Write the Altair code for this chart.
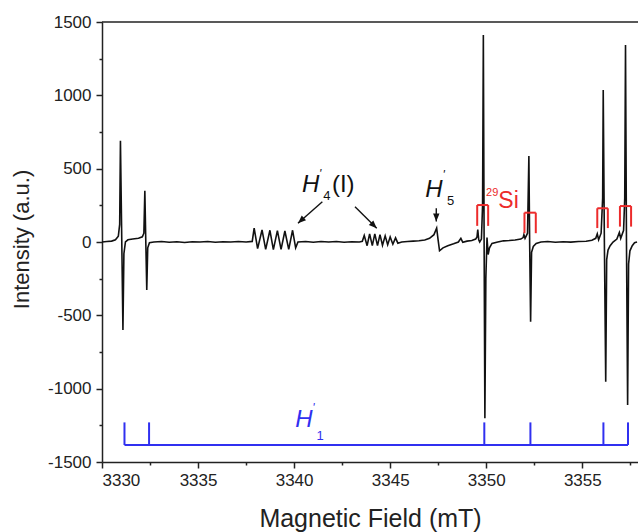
import altair as alt
import pandas as pd

FONT = "Liberation Sans"
XMIN, XMAX = 3330.0, 3357.9
YMIN, YMAX = -1500, 1500

# ---- EPR spectrum ----
field = [
    3330.00, 3330.25, 3330.50, 3330.70, 3330.85, 3330.92, 3330.96, 3331.03, 3331.09, 3331.14,
    3331.22, 3331.35, 3331.60, 3331.90, 3332.10, 3332.18, 3332.23, 3332.28, 3332.33, 3332.38,
    3332.47, 3332.70, 3333.10, 3333.50, 3333.90, 3334.30, 3334.70, 3335.10, 3335.50, 3335.90,
    3336.30, 3336.70, 3337.10, 3337.50, 3337.82,
    3337.92, 3338.10, 3338.33, 3338.52, 3338.74, 3338.92, 3339.13, 3339.32, 3339.52, 3339.72,
    3339.92, 3340.08, 3340.20,
    3340.60, 3341.00, 3341.40, 3341.80, 3342.20, 3342.60, 3343.00, 3343.40, 3343.55,
    3343.65, 3343.80, 3343.93, 3344.07, 3344.20, 3344.34, 3344.47, 3344.60, 3344.74, 3344.87,
    3345.00, 3345.14, 3345.28, 3345.40, 3345.60,
    3345.90, 3346.20, 3346.50, 3346.80, 3347.05, 3347.28, 3347.42, 3347.50, 3347.57, 3347.75,
    3348.00, 3348.30, 3348.55, 3348.68, 3348.78, 3349.00, 3349.25, 3349.45,
    3349.52, 3349.56, 3349.61, 3349.66, 3349.75, 3349.81, 3349.85, 3349.89, 3349.93, 3349.98,
    3350.04, 3350.10, 3350.17, 3350.30, 3350.60, 3350.90, 3351.20, 3351.50, 3351.80, 3351.92,
    3351.96, 3352.02, 3352.15, 3352.22, 3352.26, 3352.31, 3352.36, 3352.45, 3352.60, 3352.85,
    3353.20, 3353.60, 3354.00, 3354.40, 3354.80, 3355.20, 3355.50, 3355.70,
    3355.78, 3355.85, 3355.98, 3356.06, 3356.09, 3356.15, 3356.22, 3356.27, 3356.34, 3356.45,
    3356.60, 3356.80, 3356.93, 3357.00, 3357.15, 3357.21,
    3357.25, 3357.30, 3357.36, 3357.41, 3357.48, 3357.60, 3357.72, 3357.85,
]
intensity = [
    0, 3, 6, 15, 40, 120, 690, 0, -600, -80,
    0, 15, 20, 25, 35, 60, 350, 0, -327, -40,
    -5, 0, 3, -2, 2, -3, 2, 0, 3, -2,
    2, 0, 3, 0, 4,
    95, -45, 82, -50, 80, -52, 78, -50, 75, -50,
    80, -40, 0,
    3, -2, 3, 0, 3, -2, 2, 0, 5,
    45, -25, 55, -25, 55, -25, 50, -22, 42, -18,
    35, -15, 28, -8, 0,
    3, 6, 8, 14, 25, 50, 95, 10, -60, -40,
    -25, -12, 0, 25, -2, 6, 10, 20,
    35, 85, 15, 0, 20, 250, 1411, 0, -1202, -250,
    30, -85, -40, -10, 0, 8, 10, 14, 20, 30,
    50, 25, 60, 586, 0, -543, -70, -30, -10, 0,
    3, -2, 2, -1, 3, 5, 12, 25,
    55, 15, 60, 300, 1036, 0, -952, -120, -55, -25,
    0, 20, 65, 25, 80, 300,
    1343, 0, -1111, -150, -60, -25, -5, 0,
]

# 29Si satellite brackets
si_left = [3349.53, 3351.99, 3355.78, 3356.96]
si_right = [3350.10, 3352.58, 3356.33, 3357.54]
si_top = [252, 200, 230, 245]
si_bottom = [110, 60, 95, 105]

# H'1 stick diagram
h1_lines = [3331.17, 3332.45, 3349.90, 3352.30, 3356.10, 3357.38]
h1_base = -1384
h1_top = -1230

x_major = [3330, 3335, 3340, 3345, 3350, 3355]
x_minor = [3332.5, 3337.5, 3342.5, 3347.5, 3352.5, 3357.5]
y_major = [-1500, -1000, -500, 0, 500, 1000, 1500]
y_minor = [-1250, -750, -250, 250, 750, 1250]

spec = pd.DataFrame({"field": field, "intensity": intensity})
xs = alt.Scale(domain=[XMIN, XMAX], nice=False, zero=False)
ys = alt.Scale(domain=[YMIN, YMAX], nice=False, zero=False)

AX = dict(labelFont=FONT, labelFontSize=17, labelColor="#222", titleFont=FONT,
          titleFontWeight="normal", titleColor="#222",
          domainColor="#222", domainWidth=1.5, tickColor="#222", tickWidth=1.5,
          tickSize=6, grid=False, labelExpr="'' + datum.value")

line = alt.Chart(spec).mark_line(color="#111", strokeWidth=1.6).encode(
    x=alt.X("field:Q", scale=xs,
            axis=alt.Axis(values=x_major, title="Magnetic Field (mT)", titleFontSize=25,
                          labelPadding=4, titleBaseline="alphabetic", titleY=64, **AX)),
    y=alt.Y("intensity:Q", scale=ys,
            axis=alt.Axis(values=y_major, title="Intensity (a.u.)", titleFontSize=22,
                          labelPadding=5, titleAngle=-90, titleBaseline="bottom",
                          titleX=-69, titleY=217, **AX)),
)

top_border = alt.Chart(pd.DataFrame({"a": [0]})).mark_rule(color="#222", strokeWidth=1.5).encode(
    y=alt.datum(YMAX))

# red brackets
br = pd.DataFrame({"l": si_left, "r": si_right, "t": si_top, "b": si_bottom})
RED = "#ec2b2b"
br_top = alt.Chart(br).mark_rule(color=RED, strokeWidth=2).encode(
    x="l:Q", x2="r:Q", y="t:Q")
br_left = alt.Chart(br).mark_rule(color=RED, strokeWidth=2).encode(
    x="l:Q", y="b:Q", y2="t:Q")
br_right = alt.Chart(br).mark_rule(color=RED, strokeWidth=2).encode(
    x="r:Q", y="b:Q", y2="t:Q")

# blue stick diagram
BLUE = "#3030f0"
h1 = pd.DataFrame({"x": h1_lines, "b": [h1_base] * len(h1_lines), "t": [h1_top] * len(h1_lines)})
h1_hor = alt.Chart(pd.DataFrame({"x": [min(h1_lines)], "x2": [max(h1_lines)], "y": [h1_base]})).mark_rule(
    color=BLUE, strokeWidth=2).encode(x="x:Q", x2="x2:Q", y="y:Q")
h1_ticks = alt.Chart(h1).mark_rule(color=BLUE, strokeWidth=2).encode(x="x:Q", y="b:Q", y2="t:Q")

one = pd.DataFrame({"a": [0]})


def label(text, x, y, size, color="#111", italic=False, baseline="alphabetic", align="left"):
    return alt.Chart(one).mark_text(
        text=text, font=FONT, fontSize=size, color=color, align=align, baseline=baseline,
        fontStyle="italic" if italic else "normal").encode(x=alt.datum(x), y=alt.datum(y))


def arrow(x1, y1, x2, y2, angle):
    seg = alt.Chart(pd.DataFrame({"x": [x1], "y": [y1], "x2": [x2], "y2": [y2]})).mark_rule(
        color="#111", strokeWidth=1.4).encode(x="x:Q", y="y:Q", x2="x2:Q", y2="y2:Q")
    head = alt.Chart(one).mark_point(
        shape="M0,0L-0.4,1L0.4,1Z", filled=True, color="#111", size=256, opacity=1,
        angle=angle).encode(x=alt.datum(x2), y=alt.datum(y2))
    return seg + head


texts = [
    # H'4(I)
    label("H", 3340.41, 343, 24, italic=True),
    label("'", 3341.30, 500, 12, italic=True, baseline="top"),
    label("4", 3341.52, 286, 13),
    label("(I)", 3341.97, 343, 24),
    # H'5
    label("H", 3346.83, 309, 24, italic=True),
    label("'", 3347.72, 490, 12, italic=True, baseline="top"),
    label("5", 3347.96, 252, 13),
    # 29Si
    label("29", 3349.99, 314, 11, color=RED),
    label("Si", 3350.63, 230, 23, color=RED),
    # H'1
    label("H", 3340.06, -1259, 24, color=BLUE, italic=True),
    label("'", 3340.95, -1100, 12, color=BLUE, italic=True, baseline="top"),
    label("1", 3341.16, -1350, 13, color=BLUE),
]

arrows = [
    arrow(3341.47, 275, 3340.20, 128, 228),
    arrow(3343.17, 240, 3344.30, 93, 135),
    arrow(3347.40, 230, 3347.40, 140, 180),
]

main = alt.layer(line, top_border, br_top, br_left, br_right, h1_hor, h1_ticks, *texts, *arrows)

minor = alt.Chart(pd.DataFrame({"x": [XMIN], "y": [0]})).mark_point(opacity=0).encode(
    x=alt.X("x:Q", scale=xs,
            axis=alt.Axis(values=x_minor, labels=False, domain=False, title=None, orient="bottom",
                          tickSize=3, tickColor="#222", tickWidth=1.5, grid=False)),
    y=alt.Y("y:Q", scale=ys,
            axis=alt.Axis(values=y_minor, labels=False, domain=False, title=None, orient="left",
                          tickSize=3, tickColor="#222", tickWidth=1.5, grid=False)),
)

chart = alt.layer(main, minor).resolve_scale(x="independent", y="independent").properties(
    width=536, height=440,
    padding={"left": 102, "top": 22, "right": 0, "bottom": 70},
    autosize=alt.AutoSizeParams(type="none"),
    background="white",
).configure_view(stroke=None)

chart.save("out.html", embed_options={"renderer": "svg", "actions": False})
